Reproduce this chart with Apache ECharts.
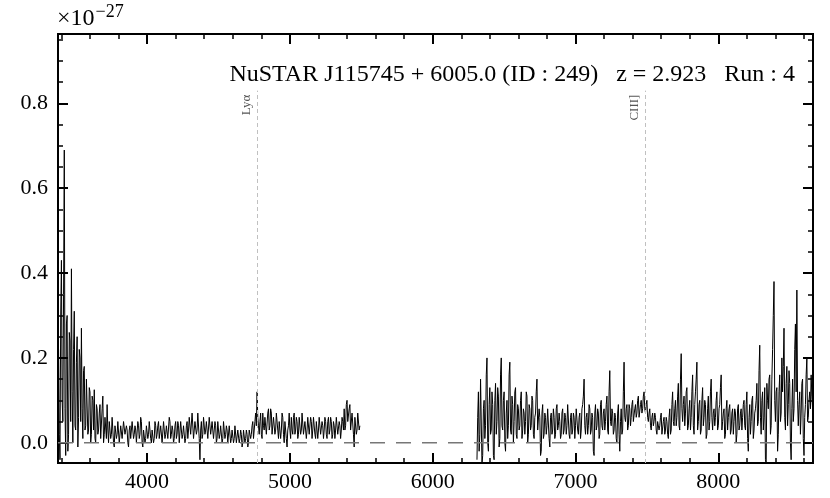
<!DOCTYPE html>
<html>
<head>
<meta charset="utf-8">
<script src="https://cdn.jsdelivr.net/npm/echarts@6/dist/echarts.min.js"></script>
<style>
html,body{margin:0;padding:0;background:#fff;}
#chart{width:830px;height:498px;}
</style>
</head>
<body>
<div id="chart"></div>
<script>
// ---- data ----
const waveStartBlue = 3380;
const waveStartRed = 6310;
const waveStep = 5;
const fluxBlue = [
0.22,0.02,-0.04,0.30,0.43,0.10,0.05,0.35,0.69,0.08,-0.03,0.28,0.30,-0.02,0.02,0.26,0.24,0.05,0.41,0.12,
0.00,0.22,0.31,0.04,0.03,0.19,0.25,-0.01,0.06,0.22,0.20,0.05,0.27,0.08,0.01,0.17,0.18,0.03,0.04,0.15,
0.15,0.02,0.03,0.13,0.12,0.00,0.02,0.11,0.10,0.03,0.125,0.01,0.00,0.09,0.08,0.02,0.03,0.07,0.09,0.01,
0.01,0.08,0.11,0.00,0.02,0.06,0.06,0.01,0.09,0.03,0.00,0.05,0.05,0.01,0.02,0.06,0.06,0.00,-0.01,0.04,
0.04,0.01,0.02,0.05,0.05,0.00,0.00,0.04,0.04,0.01,0.01,0.05,0.05,0.02,0.02,0.04,0.03,0.00,-0.01,0.03,
0.04,0.01,0.01,0.05,0.05,0.01,0.02,0.04,0.03,0.00,0.00,0.05,0.04,0.01,0.02,0.06,0.05,0.00,-0.01,0.03,
0.03,0.00,0.01,0.04,0.04,0.01,0.02,0.05,0.05,0.01,0.00,0.03,0.03,0.00,0.01,0.05,0.04,0.01,0.02,0.04,
0.05,0.01,0.01,0.04,0.04,0.00,0.00,0.05,0.05,0.01,0.02,0.04,0.04,0.01,0.01,0.06,0.05,0.01,0.02,0.04,
0.03,0.00,0.01,0.04,0.05,0.01,0.02,0.05,0.04,0.00,0.00,0.05,0.05,0.01,0.02,0.04,0.04,0.00,0.01,0.04,
0.05,0.01,0.03,0.06,0.06,0.02,0.02,0.07,0.07,0.01,0.01,0.05,0.05,0.02,0.03,0.07,0.07,0.01,-0.04,0.03,
0.05,0.01,0.02,0.06,0.06,0.02,0.03,0.05,0.05,0.01,0.01,0.06,0.06,0.02,0.02,0.05,0.05,0.01,0.03,0.05,
0.04,0.00,0.01,0.05,0.05,0.01,0.02,0.04,0.04,0.00,0.01,0.05,0.05,0.01,0.02,0.04,0.03,0.00,0.00,0.04,
0.04,0.00,0.01,0.03,0.03,0.00,0.01,0.04,0.04,0.00,0.00,0.03,0.03,0.00,0.01,0.03,0.02,-0.01,0.00,0.03,
0.03,0.00,0.01,0.03,0.02,-0.01,0.00,0.03,0.03,0.01,0.02,0.04,0.05,0.01,0.01,0.05,0.07,0.04,0.12,0.06,
0.04,0.02,0.05,0.07,0.02,0.01,0.07,0.04,0.03,0.06,0.06,0.02,0.02,0.07,0.08,0.03,0.04,0.08,0.07,0.02,
0.02,0.06,0.06,0.02,0.03,0.07,0.07,0.03,0.01,0.05,0.05,0.01,0.03,0.07,0.06,0.02,0.00,0.05,0.05,0.01,
-0.01,0.03,0.04,0.07,0.03,0.01,0.06,0.03,0.02,0.06,0.07,0.02,0.03,0.06,0.05,0.01,0.02,0.06,0.06,0.02,
0.03,0.07,0.07,0.02,0.02,0.05,0.05,0.01,0.03,0.06,0.06,0.02,0.02,0.06,0.05,0.01,0.03,0.06,0.06,0.02,
0.01,0.05,0.05,0.01,0.03,0.06,0.06,0.02,0.02,0.05,0.04,0.01,0.03,0.06,0.05,0.02,0.01,0.05,0.06,0.02,
0.03,0.06,0.05,0.01,0.02,0.05,0.04,0.01,0.03,0.06,0.06,0.02,0.02,0.05,0.04,0.01,0.03,0.06,0.05,0.03,
0.08,0.03,0.04,0.09,0.10,0.05,0.05,0.08,0.09,0.03,0.03,0.07,0.07,0.02,-0.01,0.06,0.06,0.02,0.03,0.07,
0.07,0.03,0.04
];
const fluxRed = [
-0.04,0.06,0.12,-0.02,0.02,0.15,0.15,-0.05,-0.03,0.08,0.10,0.01,0.04,0.16,0.20,0.00,-0.02,0.09,0.13,0.02,
0.03,0.12,0.09,-0.03,-0.04,0.10,0.14,0.02,0.05,0.13,0.11,-0.01,0.01,0.16,0.20,0.04,0.03,0.10,0.12,0.00,
-0.02,0.07,0.10,0.01,0.04,0.16,0.19,0.03,0.02,0.11,0.09,0.00,0.05,0.12,0.13,0.02,0.01,0.09,0.08,0.03,
0.04,0.10,0.12,0.01,0.03,0.08,0.07,0.02,0.05,0.12,0.11,0.00,0.02,0.09,0.08,0.03,0.04,0.11,0.10,0.02,
0.01,0.06,0.07,0.12,0.15,0.03,0.03,0.08,0.06,-0.03,-0.02,0.07,0.09,0.01,0.02,0.07,0.06,0.02,0.04,0.08,
0.08,0.01,-0.01,0.06,0.07,0.02,0.03,0.08,0.06,0.01,0.02,0.08,0.09,0.03,0.04,0.07,0.05,0.01,0.02,0.07,
0.08,0.02,0.03,0.07,0.06,0.02,0.04,0.09,0.09,0.02,0.01,0.06,0.07,0.02,0.03,0.07,0.06,0.01,0.04,0.08,
0.08,0.03,0.02,0.06,0.07,0.01,0.03,0.08,0.09,0.11,0.15,0.04,0.02,0.06,0.07,0.02,0.04,0.09,0.08,0.02,
0.03,0.07,0.06,-0.02,-0.03,0.07,0.09,0.03,0.04,0.08,0.07,0.01,0.02,0.09,0.10,0.04,0.03,0.07,0.08,0.03,
0.05,0.09,0.11,0.03,0.02,0.12,0.17,0.05,0.04,0.08,0.07,0.02,0.03,0.07,0.06,0.01,0.00,0.07,0.09,0.02,
-0.02,0.05,0.08,0.02,0.03,0.12,0.19,0.06,0.05,0.08,0.09,0.03,0.04,0.09,0.08,0.04,0.06,0.09,0.10,0.05,
0.05,0.08,0.09,0.06,0.07,0.10,0.11,0.06,0.06,0.09,0.10,0.07,0.08,0.11,0.12,0.08,0.07,0.09,0.10,0.06,
0.05,0.07,0.08,0.04,0.03,0.06,0.07,0.04,0.05,0.07,0.06,0.03,0.02,0.05,0.05,0.03,0.04,0.06,0.07,0.02,
0.02,0.05,0.06,0.02,0.03,0.06,0.05,0.02,0.01,0.06,0.08,0.02,0.03,0.09,0.12,0.05,0.04,0.08,0.10,0.04,
0.06,0.11,0.14,0.04,0.03,0.15,0.21,0.08,0.05,0.09,0.11,0.04,0.07,0.12,0.13,0.03,0.04,0.08,0.10,0.03,
0.06,0.12,0.16,0.04,0.02,0.09,0.12,0.15,0.19,0.03,0.05,0.09,0.10,0.02,0.03,0.10,0.13,0.04,0.06,0.10,
0.09,0.01,0.02,0.08,0.11,0.03,0.05,0.12,0.15,0.06,0.03,0.07,0.08,0.04,0.06,0.10,0.12,0.03,0.04,0.08,
0.09,0.13,0.16,0.03,0.05,0.07,0.08,0.01,0.02,0.08,0.10,0.03,0.06,0.08,0.09,0.02,0.03,0.07,0.08,0.02,
0.05,0.08,0.07,0.00,0.02,0.08,0.09,0.03,0.04,0.07,0.08,0.03,0.06,0.09,0.10,0.04,0.03,0.09,0.12,0.01,
-0.02,0.06,0.09,0.02,0.05,0.10,0.11,0.01,0.03,0.07,0.08,0.10,0.14,0.04,0.05,0.17,0.23,0.06,0.02,0.10,
0.12,0.03,0.06,0.13,-0.04,-0.05,0.14,0.10,0.08,0.15,0.16,0.02,0.04,0.15,0.22,0.30,0.38,0.10,0.05,0.12,
0.13,-0.02,0.02,0.12,0.16,0.05,0.07,0.20,0.12,0.18,0.27,0.06,0.03,0.14,0.18,0.04,0.09,0.17,0.14,0.00,
-0.04,0.08,0.15,0.05,0.08,0.22,0.28,0.12,0.36,0.10,0.04,0.09,0.12,0.02,0.07,0.14,0.15,0.01,-0.03,0.06,
0.09,0.16,0.20,0.05,0.06,0.10,0.12,0.08,0.16,0.11,0.08
];
const redshift = 2.923;
const featureNames = ['Ly\u03b1', 'CIII]'];
const featureRest = [1215.67, 1908.73];
const featureTop = 0.83;
const xMajorTicks = [4000, 5000, 6000, 7000, 8000];
const xMinorTicks = [3400,3600,3800,4200,4400,4600,4800,5200,5400,5600,5800,6200,6400,6600,6800,7200,7400,7600,7800,8200,8400,8600];
const yMajorTicks = [0.0, 0.2, 0.4, 0.6, 0.8];
const yMinorTicks = [0.05,0.1,0.15,0.25,0.3,0.35,0.45,0.5,0.55,0.65,0.7,0.75,0.85,0.9,0.95];
const xRange = [3376, 8663];
const yRange = [-0.0477, 0.9635];
const titleText = 'NuSTAR J115745 + 6005.0 (ID : 249)   z = 2.923   Run : 4';

// ---- build ----
const blueData = fluxBlue.map((v, i) => [waveStartBlue + i * waveStep, v]);
const redData = fluxRed.map((v, i) => [waveStartRed + i * waveStep, v]);
const zeroData = [[xRange[0], 0], [xRange[1], 0]];
const featureLines = featureNames.map((n, i) => {
  const w = featureRest[i] * (1 + redshift);
  return [{coord: [w, yRange[0]]}, {coord: [w, featureTop], name: n}];
});

const FONT = 'Liberation Serif';
const gridRect = {left: 58, right: 17, top: 34, bottom: 35};

function xAxisDef(grid, pos, ticks, len, showLabel, width) {
  return {
    type: 'value', gridIndex: grid, position: pos, min: xRange[0], max: xRange[1],
    axisLine: {show: true, onZero: false, lineStyle: {color: '#000', width: 2}},
    axisTick: {show: true, inside: true, length: len, customValues: ticks, lineStyle: {color: '#000', width: width}},
    axisLabel: {show: showLabel, customValues: ticks, margin: 8, color: '#000', fontFamily: FONT, fontSize: 22,
      formatter: v => String(Math.round(v))},
    splitLine: {show: false}
  };
}
function yAxisDef(grid, pos, ticks, len, showLabel, width) {
  return {
    type: 'value', gridIndex: grid, position: pos, min: yRange[0], max: yRange[1],
    axisLine: {show: true, onZero: false, lineStyle: {color: '#000', width: 2}},
    axisTick: {show: true, inside: true, length: len, customValues: ticks, lineStyle: {color: '#000', width: width}},
    axisLabel: {show: showLabel, customValues: ticks, margin: 10, color: '#000', fontFamily: FONT, fontSize: 22,
      formatter: v => v.toFixed(1)},
    splitLine: {show: false}
  };
}

const chart = echarts.init(document.getElementById('chart'), null, {renderer: 'canvas'});
chart.setOption({
  animation: false,
  backgroundColor: '#fff',
  grid: [Object.assign({}, gridRect), Object.assign({}, gridRect)],
  xAxis: [
    xAxisDef(0, 'bottom', xMajorTicks, 10, true, 2),
    xAxisDef(0, 'top', xMajorTicks, 10, false, 2),
    xAxisDef(1, 'bottom', xMinorTicks, 5, false, 1.5),
    xAxisDef(1, 'top', xMinorTicks, 5, false, 1.5)
  ],
  yAxis: [
    yAxisDef(0, 'left', yMajorTicks, 10, true, 2),
    yAxisDef(0, 'right', yMajorTicks, 10, false, 2),
    yAxisDef(1, 'left', yMinorTicks, 5, false, 1.5),
    yAxisDef(1, 'right', yMinorTicks, 5, false, 1.5)
  ],
  graphic: [
    {type: 'text', left: 57, top: 3, style: {
      text: '{a|\u00d710}{b|\u221227}', fill: '#000',
      rich: {a: {fontFamily: FONT, fontSize: 24, verticalAlign: 'bottom'},
             b: {fontFamily: FONT, fontSize: 18, verticalAlign: 'top', padding: [0, 0, 10, 1]}}
    }},
    {type: 'text', right: 35, top: 63, style: {
      text: titleText, fill: '#000', fontFamily: FONT, fontSize: 24
    }}
  ],
  series: [
    {type: 'line', xAxisIndex: 0, yAxisIndex: 0, data: blueData, showSymbol: false, symbol: 'none',
      lineStyle: {color: '#000', width: 1}, z: 2},
    {type: 'line', xAxisIndex: 0, yAxisIndex: 0, data: redData, showSymbol: false, symbol: 'none',
      lineStyle: {color: '#000', width: 1}, z: 2},
    {type: 'line', xAxisIndex: 0, yAxisIndex: 0, data: zeroData, showSymbol: false, symbol: 'none',
      lineStyle: {color: '#777', width: 1.5, type: [15, 11]}, z: 3,
      markLine: {
        silent: true, symbol: ['none', 'none'], animation: false,
        lineStyle: {color: '#c0c0c0', width: 1, type: [4, 3]},
        label: {show: true, position: 'insideEndTop', formatter: p => p.data.name || p.name,
          fontFamily: FONT, fontSize: 13, color: '#555', distance: 4},
        data: featureLines
      }}
  ]
});
</script>
</body>
</html>
